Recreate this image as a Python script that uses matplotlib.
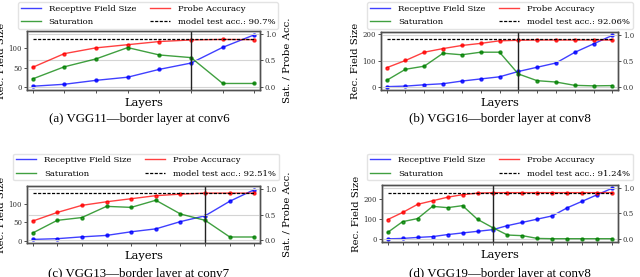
import matplotlib
matplotlib.use("Agg")
import matplotlib.pyplot as plt
from matplotlib.lines import Line2D

# ---------------- data ----------------
rf_vgg11 = [3, 8, 18, 26, 46, 62, 102, 134]
acc_vgg11 = [0.37, 0.63, 0.74, 0.80, 0.86, 0.89, 0.90, 0.895]
sat_vgg11 = [0.15, 0.38, 0.53, 0.745, 0.605, 0.555, 0.064, 0.064]
test_vgg11 = 0.907
border_vgg11 = 5

rf_vgg16 = [3, 5, 10, 14, 24, 32, 40, 60, 76, 92, 132, 164, 196]
acc_vgg16 = [0.37, 0.51, 0.67, 0.74, 0.80, 0.84, 0.89, 0.90, 0.905, 0.905, 0.905, 0.905, 0.905]
sat_vgg16 = [0.126, 0.34, 0.40, 0.65, 0.62, 0.67, 0.67, 0.25, 0.12, 0.094, 0.03, 0.02, 0.025]
test_vgg16 = 0.9206
border_vgg16 = 7

rf_vgg13 = [3, 5, 10, 14, 24, 32, 52, 68, 108, 140]
acc_vgg13 = [0.37, 0.54, 0.68, 0.75, 0.81, 0.87, 0.90, 0.92, 0.92, 0.92]
sat_vgg13 = [0.135, 0.385, 0.44, 0.66, 0.64, 0.78, 0.51, 0.385, 0.058, 0.058]
test_vgg13 = 0.9251
border_vgg13 = 7

rf_vgg19 = [3, 5, 10, 14, 24, 32, 40, 48, 68, 84, 100, 116, 156, 188, 220, 252]
acc_vgg19 = [0.38, 0.52, 0.68, 0.75, 0.82, 0.87, 0.90, 0.91, 0.91, 0.91, 0.91, 0.91, 0.91, 0.91, 0.91, 0.91]
sat_vgg19 = [0.127, 0.34, 0.40, 0.64, 0.615, 0.654, 0.385, 0.224, 0.077, 0.064, 0.01, 0.005, 0.005, 0.005, 0.005, 0.005]
test_vgg19 = 0.9124
border_vgg19 = 7

captions = ["(a) VGG11\u2014border layer at conv6",
            "(b) VGG16\u2014border layer at conv8",
            "(c) VGG13\u2014border layer at conv7",
            "(d) VGG19\u2014border layer at conv8"]
test_labels = ["90.7%", "92.06%", "92.51%", "91.24%"]
left_ticks = [[0, 50, 100], [0, 100, 200], [0, 50, 100], [0, 100, 200]]
right_ticks = [0.0, 0.5, 1.0]

panels = [
    (rf_vgg11, acc_vgg11, sat_vgg11, test_vgg11, border_vgg11),
    (rf_vgg16, acc_vgg16, sat_vgg16, test_vgg16, border_vgg16),
    (rf_vgg13, acc_vgg13, sat_vgg13, test_vgg13, border_vgg13),
    (rf_vgg19, acc_vgg19, sat_vgg19, test_vgg19, border_vgg19),
]

# ---------------- layout (pixels) ----------------
W, H = 640, 277
rects = [(27, 260, 31, 90), (381, 618, 32, 90), (27, 260, 186, 243), (382, 618, 185, 242)]
caption_pos = [(139, 122), (500, 122), (139, 277), (500, 277)]
legend_pos = [(148, 15.5), (500, 15.5), (146, 167), (500, 167)]

plt.rcParams['font.family'] = ['DejaVu Serif']
fig = plt.figure(figsize=(6.4, 2.77), dpi=100)

def frac_rect(l, r, t, b):
    return [l / W, 1 - b / H, (r - l) / W, (b - t) / H]

spine_col = '#505050'
for i, (rf, acc, sat, test, border) in enumerate(panels):
    l, r, t, b = rects[i]
    ax = fig.add_axes(frac_rect(l, r, t, b))
    ax2 = ax.twinx()
    n = len(rf)
    x = list(range(n))
    pad = 0.025 * (n - 1)
    ax.set_xlim(-pad, n - 1 + pad)

    ax2.grid(axis='y', color='#d4d4d4', lw=0.8)
    ax2.set_axisbelow(True)

    ax.plot(x, rf, color='blue', alpha=0.75, lw=1.0, marker='o', ms=2.2)
    ax2.plot(x, acc, color='red', alpha=0.75, lw=1.0, marker='o', ms=2.2)
    ax2.plot(x, sat, color='green', alpha=0.75, lw=1.0, marker='o', ms=2.2)
    ax2.hlines(test, 0, n - 1, colors='black', linestyles=(0, (2.5, 1.2)), lw=0.9)
    ax2.axvline(border, color='#222222', lw=1.0)

    rng = max(rf) - min(rf)
    ax.set_ylim(min(rf) - 0.05 * rng - 3, max(rf) + 0.05 * rng + 3)
    ax2.set_ylim(-0.06, 1.06)
    ax.set_yticks(left_ticks[i])
    ax2.set_yticks(right_ticks)
    ax2.set_yticklabels(["0.0", "0.5", "1.0"])
    ax.set_xticks(x)
    ax.set_xticklabels([])

    for a in (ax, ax2):
        a.tick_params(labelsize=5.0, length=2, width=0.6, pad=1.5, colors='#333333')
        for s in a.spines.values():
            s.set_color(spine_col)
            s.set_linewidth(1.0)

    w = r - l
    ax.set_ylabel("Rec. Field Size", fontsize=7.3)
    ax.yaxis.set_label_coords(-21 / w, 0.5)
    ax2.set_ylabel("Sat. / Probe Acc.", fontsize=7.3)
    ax2.yaxis.set_label_coords(1 + 23 / w, 0.5)
    ax.set_xlabel("Layers", fontsize=8.2, labelpad=2)

    handles = [Line2D([], [], color='blue', alpha=0.75, lw=1.0),
               Line2D([], [], color='green', alpha=0.75, lw=1.0),
               Line2D([], [], color='red', alpha=0.75, lw=1.0),
               Line2D([], [], color='black', lw=0.9, linestyle=(0, (2.5, 1.2)))]
    labels = ["Receptive Field Size", "Saturation", "Probe Accuracy",
              "model test acc.: " + test_labels[i]]
    lx, ly = legend_pos[i]
    fig.legend(handles, labels, ncol=2, loc='center',
               bbox_to_anchor=(lx / W, 1 - ly / H), fontsize=6.1,
               handlelength=2.4, handletextpad=0.9, columnspacing=1.6,
               labelspacing=0.65, borderpad=0.3, frameon=True,
               edgecolor='#dddddd', fancybox=True)

    cx, cy = caption_pos[i]
    fig.text(cx / W, 1 - cy / H, captions[i], ha='center', va='baseline',
             fontsize=9.3, family='Liberation Serif')

fig.savefig("out.png", dpi=100)
